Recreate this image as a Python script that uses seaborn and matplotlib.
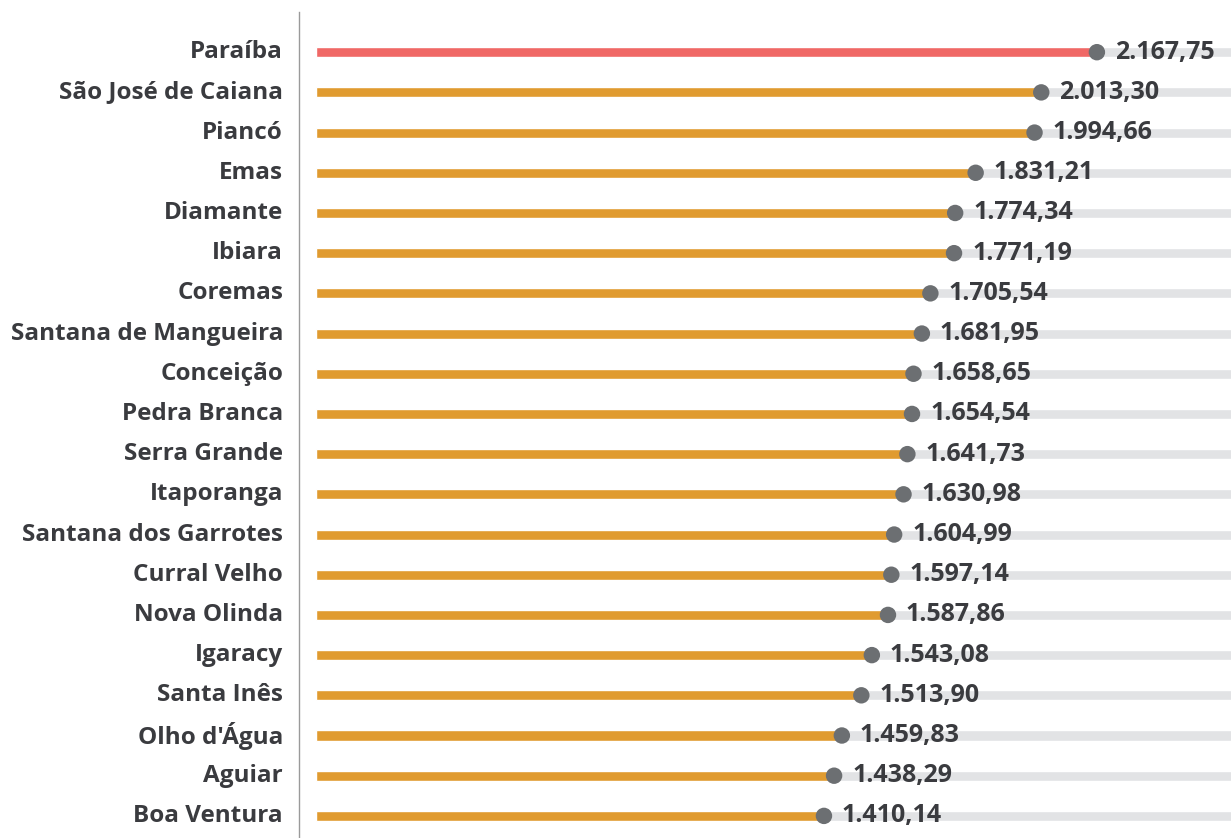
import matplotlib
matplotlib.use("Agg")
import matplotlib.pyplot as plt
from matplotlib.transforms import ScaledTranslation
import seaborn as sns
import pandas as pd

municipios = ["Paraíba", "São José de Caiana", "Piancó", "Emas", "Diamante", "Ibiara",
              "Coremas", "Santana de Mangueira", "Conceição", "Pedra Branca", "Serra Grande",
              "Itaporanga", "Santana dos Garrotes", "Curral Velho", "Nova Olinda", "Igaracy",
              "Santa Inês", "Olho d'Água", "Aguiar", "Boa Ventura"]
valores = [2167.75, 2013.30, 1994.66, 1831.21, 1774.34, 1771.19, 1705.54, 1681.95, 1658.65,
           1654.54, 1641.73, 1630.98, 1604.99, 1597.14, 1587.86, 1543.08, 1513.90, 1459.83,
           1438.29, 1410.14]
grupo = ["estado"] + ["municipio"] * (len(municipios) - 1)

XMIN, XMAX = -47, 2540

sns.set_theme(style="white")
plt.rcParams["font.family"] = ["Open Sans", "DejaVu Sans"]

df = pd.DataFrame({"municipio": municipios, "valor": valores, "grupo": grupo,
                   "fundo": [XMAX + 100] * len(municipios)})

fig = plt.figure(figsize=(12.31, 8.38), dpi=100)
ax = fig.add_axes([299 / 1231, 0, 1 - 299 / 1231, (838 - 12) / 838])

sns.barplot(data=df, y="municipio", x="fundo", color="#e2e3e5", width=0.25,
            orient="h", ax=ax, saturation=1)
sns.barplot(data=df, y="municipio", x="valor", hue="grupo",
            palette={"estado": "#f06866", "municipio": "#e09b30"},
            width=0.25, orient="h", ax=ax, saturation=1, legend=False, dodge=False)
sns.scatterplot(data=df, y="municipio", x="valor", color="#6c6f72", s=140,
                edgecolor="none", ax=ax, zorder=5, legend=False)

def fmt(v):
    s = f"{v:,.2f}"
    return s.replace(",", "X").replace(".", ",").replace("X", ".")

for i, v in enumerate(valores):
    ax.annotate(fmt(v), xy=(v, i), xytext=(18, 0), textcoords="offset pixels",
                va="center", ha="left", fontsize=18, fontweight="bold",
                color="#3a3b3f", zorder=6)

ax.set_xlim(XMIN, XMAX)
ax.set_ylim(len(municipios) - 0.45, -1)
ax.set_xlabel("")
ax.set_ylabel("")
ax.set_xticks([])
ax.tick_params(axis="y", length=0, pad=11.5)
for lab in ax.get_yticklabels():
    lab.set_fontsize(17.5)
    lab.set_fontweight("bold")
    lab.set_color("#3a3b3f")
    lab.set_transform(lab.get_transform() + ScaledTranslation(0, 3 / 100, fig.dpi_scale_trans))

for side in ["top", "right", "bottom"]:
    ax.spines[side].set_visible(False)
ax.spines["left"].set_color("#9a9a9a")
ax.spines["left"].set_linewidth(1.0)

fig.savefig("out.png", dpi=100)
